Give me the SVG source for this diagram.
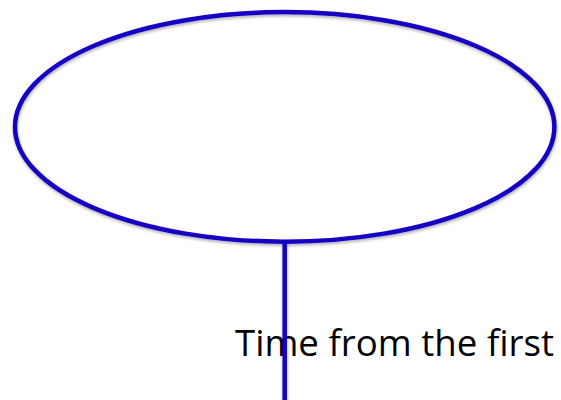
<svg xmlns="http://www.w3.org/2000/svg" width="561" height="400" viewBox="0 0 561 400">
<defs>
<style>
.shape{fill:none;stroke:#1606c4;stroke-width:4.5}
.lbl{font-family:"Open Sans","Liberation Sans",sans-serif;font-size:37px;fill:#000}
</style>
<filter id="sh" filterUnits="userSpaceOnUse" x="0" y="0" width="561" height="400">
<feDropShadow dx="0.5" dy="2" stdDeviation="1.5" flood-color="#000" flood-opacity="0.3"/>
</filter>
</defs>
<rect width="561" height="400" fill="#fff"/>
<g id="ellipse-node" filter="url(#sh)">
<ellipse class="shape" cx="284.7" cy="126.9" rx="269.7" ry="114.8"/>
</g>
<g id="label">
<text class="lbl" x="235" y="355.7" textLength="319" lengthAdjust="spacingAndGlyphs">Time from the first</text>
</g>
<g id="connectors" filter="url(#sh)">
<line class="shape" x1="284.7" y1="243" x2="284.7" y2="402"/>
</g>
</svg>
